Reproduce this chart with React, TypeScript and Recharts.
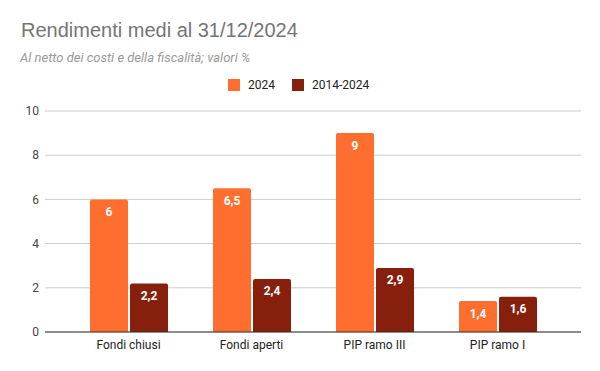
import { BarChart, Bar, XAxis, YAxis, CartesianGrid, LabelList } from "recharts";

// categories and values
const categories = ["Fondi chiusi", "Fondi aperti", "PIP ramo III", "PIP ramo I"];
const values2024 = [6, 6.5, 9, 1.4];
const values2014_2024 = [2.2, 2.4, 2.9, 1.6];
const yTicks = [0, 2, 4, 6, 8, 10];

const series = [
  { key: "y2024", name: "2024", color: "#ff6d2f" },
  { key: "y2014_2024", name: "2014-2024", color: "#86200c" },
];

const chartData = categories.map((name, i) => ({
  name,
  y2024: values2024[i],
  y2014_2024: values2014_2024[i],
}));

// italian decimal comma
const fmt = (v: any) => String(v).replace(".", ",");

export default function App() {
  return (
    <div
      style={{
        position: "absolute",
        left: 0,
        top: 0,
        width: 600,
        height: 371,
        background: "#fff",
        fontFamily: "Roboto, sans-serif",
      }}
    >
      <div
        style={{
          position: "absolute",
          left: 21,
          top: 19,
          fontSize: 20,
          fontFamily: "'Liberation Sans', Arial, sans-serif",
          color: "#757575",
          whiteSpace: "nowrap",
        }}
      >
        Rendimenti medi al 31/12/2024
      </div>
      <div
        style={{
          position: "absolute",
          left: 20,
          top: 50,
          fontSize: 13,
          fontStyle: "italic",
          color: "#999",
          whiteSpace: "nowrap",
        }}
      >
        Al netto dei costi e della fiscalità; valori %
      </div>
      {/* legend */}
      <div
        style={{
          position: "absolute",
          left: 228,
          top: 78,
          display: "flex",
          alignItems: "center",
          fontSize: 12,
          color: "#222",
        }}
      >
        {series.map((s, i) => (
          <div
            key={s.key}
            style={{ display: "flex", alignItems: "center", marginRight: i === 0 ? 17 : 0 }}
          >
            <span
              style={{ width: 12, height: 12, background: s.color, display: "inline-block", marginRight: 8 }}
            />
            <span>{s.name}</span>
          </div>
        ))}
      </div>
      <div style={{ position: "absolute", left: 0, top: 0 }}>
        <BarChart
          width={600}
          height={371}
          data={chartData}
          margin={{ top: 111, right: 19, bottom: 15, left: 0 }}
          barSize={38}
          barGap={2}
        >
          <CartesianGrid vertical={false} stroke="#cccccc" />
          <XAxis
            dataKey="name"
            height={24}
            padding={{ left: 22, right: 22 }}
            tickLine={false}
            axisLine={{ stroke: "#333" }}
            tick={{ fontSize: 12, fill: "#222" }}
          />
          <YAxis
            width={45}
            domain={[0, 10]}
            ticks={yTicks}
            tickLine={false}
            axisLine={false}
            tickMargin={0}
            tick={{ fontSize: 12, fill: "#444" }}
          />
          {series.map((s) => (
            <Bar
              key={s.key}
              dataKey={s.key}
              name={s.name}
              fill={s.color}
              radius={[2, 2, 0, 0]}
              isAnimationActive={false}
            >
              <LabelList
                dataKey={s.key}
                position="insideTop"
                offset={8}
                formatter={fmt}
                fill="#fff"
                fontSize={12}
                fontWeight="bold"
              />
            </Bar>
          ))}
        </BarChart>
      </div>
    </div>
  );
}
